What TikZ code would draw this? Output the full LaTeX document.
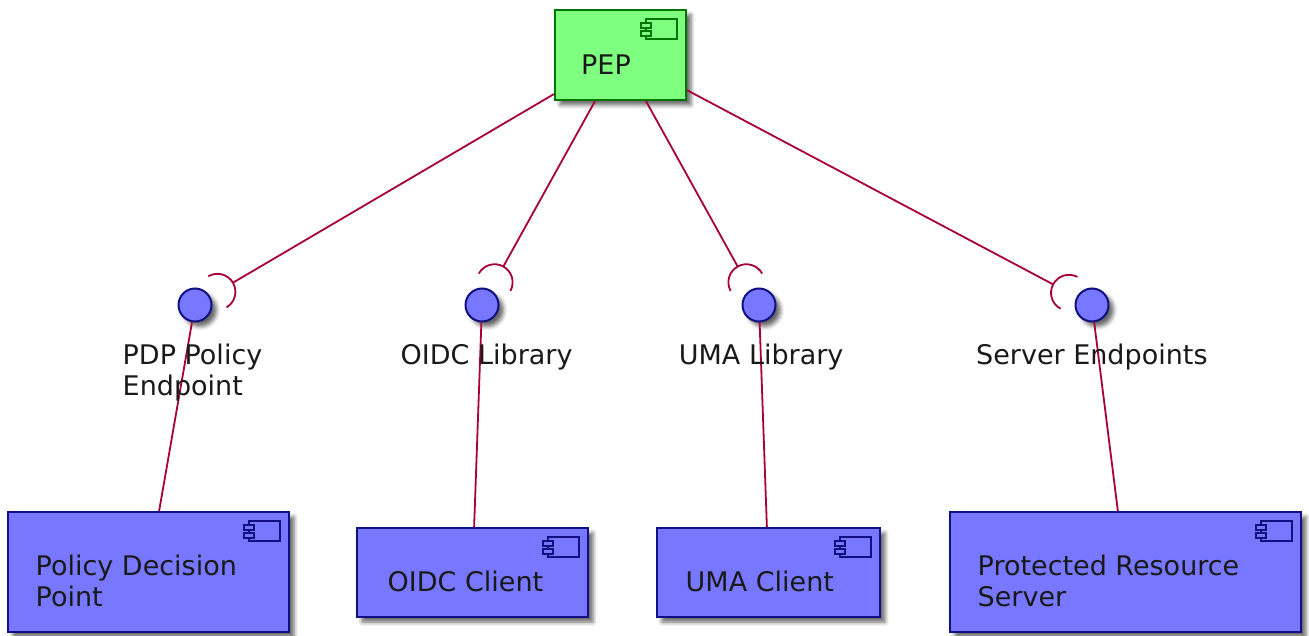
\documentclass[tikz,border=0pt]{standalone}
\usepackage{fontspec}
\setmainfont{DejaVu Sans}
\usetikzlibrary{calc,shadows.blur}

\definecolor{pepfill}{RGB}{127,255,127}
\definecolor{pepline}{RGB}{0,115,0}
\definecolor{compfill}{RGB}{119,119,255}
\definecolor{compline}{RGB}{16,16,128}
\definecolor{wirecol}{RGB}{168,0,54}

\tikzset{
  softshadow/.style={blur shadow={shadow xshift=5pt, shadow yshift=-5pt,
      shadow blur radius=4pt, shadow opacity=60}},
  comp/.style={rectangle, draw=compline, fill=compfill, line width=2pt,
      inner sep=0pt, softshadow},
  pepbox/.style={comp, draw=pepline, fill=pepfill},
  ball/.style={circle, draw=compline, fill=compfill, line width=2pt,
      minimum size=33pt, inner sep=0pt, softshadow},
  wire/.style={draw=wirecol, line width=1.8pt},
  txt/.style={font=\fontsize{27}{31}\selectfont, inner sep=0pt, text=black!90},
  pics/compicon/.style={code={
      \path[pic actions] (-41,10) rectangle (-10,30);
      \path[pic actions] (-46,14) rectangle (-36,19);
      \path[pic actions] (-46,22) rectangle (-36,27);
  }}
}

\begin{document}
\begin{tikzpicture}[x=1pt,y=-1pt]
\useasboundingbox (0,0) rectangle (1309,636);

% components
\node[pepbox, minimum width=131pt, minimum height=90pt] (pep) at (620.5,55) {};
\node[comp, minimum width=281pt, minimum height=120pt] (pdp) at (148.5,572) {};
\node[comp, minimum width=231pt, minimum height=89pt] (oidc) at (472.5,572.5) {};
\node[comp, minimum width=223pt, minimum height=89pt] (uma) at (768.5,572.5) {};
\node[comp, minimum width=351pt, minimum height=120pt] (prs) at (1125.5,572) {};

% component icons
\pic[draw=pepline, fill=pepfill, line width=1.6pt] at (pep.north east) {compicon};
\foreach \c in {pdp,oidc,uma,prs}
  \pic[draw=compline, fill=compfill, line width=1.6pt] at (\c.north east) {compicon};

% interfaces (lollipops)
\node[ball] (b1) at (195,305) {};
\node[ball] (b2) at (482,305) {};
\node[ball] (b3) at (759,305) {};
\node[ball] (b4) at (1092,305) {};

% provided side: interface to component
\draw[wire] (b1) -- (pdp);
\draw[wire] (b2) -- (oidc);
\draw[wire] (b3) -- (uma);
\draw[wire] (b4) -- (prs);

% required side: PEP sockets around each interface
\foreach \b in {b1,b2,b3,b4}{
  \coordinate (\b-s) at ($(\b)!26pt!(pep.center)$);
  \coordinate (\b-a) at ($(\b)!44pt!(pep.center)$);
  \draw[wire] let \p1=($(pep.center)-(\b)$), \n1={atan2(\y1,\x1)} in
    ($(\b-s)+(\n1-90:18pt)$) arc[start angle=\n1-90, end angle=\n1+90, radius=18pt];
  \draw[wire] (pep) -- (\b-a);
}

% labels
\node[txt, anchor=base west] (tpep) at (581,75) {PEP};
\node[txt, align=left, anchor=north west] (tpdp) at (35.5,554.5) {Policy Decision\\Point};
\node[txt, anchor=base west] (toidc) at (387.5,591) {OIDC Client};
\node[txt, anchor=base west] (tuma) at (685.5,591) {UMA Client};
\node[txt, align=left, anchor=north west] (tprs) at (977.5,554.5) {Protected Resource\\Server};

\node[txt, align=left, anchor=north west] (l1) at (122.5,343.5) {PDP Policy\\Endpoint};
\node[txt, anchor=base west] (l2) at (400.5,364) {OIDC Library};
\node[txt, anchor=base west] (l3) at (678.7,364) {UMA Library};
\node[txt, anchor=base west] (l4) at (976,364) {Server Endpoints};
\end{tikzpicture}
\end{document}
